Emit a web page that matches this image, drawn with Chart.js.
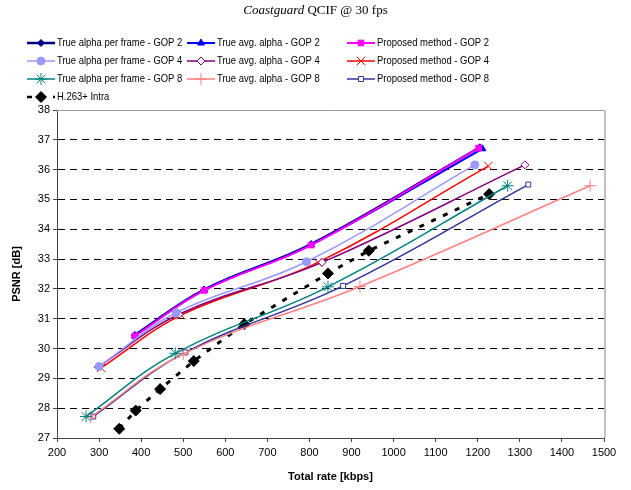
<!DOCTYPE html>
<html>
<head>
<meta charset="utf-8">
<script src="https://cdn.jsdelivr.net/npm/chart.js@4.4.1/dist/chart.umd.min.js"></script>
<style>
  html,body{margin:0;padding:0;background:#fff;}
  #wrap{position:relative;width:631px;height:490px;}
  #title{position:absolute;left:0;top:2px;width:631px;text-align:center;
    font-family:"Liberation Serif","Times New Roman",serif;font-size:13px;color:#000;}
  canvas{display:block;}
</style>
</head>
<body>
<div id="wrap">
  <div id="title"><i>Coastguard</i> QCIF @ 30 fps</div>
  <canvas id="c" width="631" height="490"></canvas>
</div>
<script>
// values: rate [kbps] / PSNR [dB]
const rateFrameG2 = [385, 550, 804, 1205];
const psnrFrameG2 = [30.45, 31.98, 33.5, 36.75];
const rateAvgG2 = [385, 550, 804, 1211];
const psnrAvgG2 = [30.43, 31.96, 33.48, 36.7];
const ratePropG2 = [385, 550, 804, 1202];
const psnrPropG2 = [30.42, 31.95, 33.47, 36.72];

const rateFrameG4 = [300, 483, 793, 1193];
const psnrFrameG4 = [29.4, 31.2, 32.91, 36.16];
const rateAvgG4 = [298, 490, 830, 1312];
const psnrAvgG4 = [29.38, 31.15, 32.89, 36.16];
const ratePropG4 = [305, 495, 820, 1225];
const psnrPropG4 = [29.35, 31.12, 32.89, 36.12];

const rateFrameG8 = [269, 481, 844, 1271];
const psnrFrameG8 = [27.72, 29.84, 32.07, 35.46];
const rateAvgG8 = [280, 500, 920, 1467];
const psnrAvgG8 = [27.7, 29.82, 32.08, 35.46];
const ratePropG8 = [286, 505, 880, 1320];
const psnrPropG8 = [27.72, 29.87, 32.1, 35.5];

const rateIntra = [348, 387, 445, 525, 645, 844, 941, 1227];
const psnrIntra = [27.31, 27.92, 28.64, 29.58, 30.82, 32.52, 33.28, 35.18];

const xTicks = {min:200, max:1500, step:100};
const yTicks = {min:27, max:38, step:1};

const FONT = '"Liberation Sans", Arial, sans-serif';

function pts(xs, ys){
  return xs.map((x,i)=>({x, y:ys[i]}));
}

function series(label, xs, ys, color, style, opts){
  return Object.assign({
    label,
    data:pts(xs, ys),
    borderColor:color,
    backgroundColor:color,
    pointBackgroundColor:color,
    pointBorderColor:color,
    pointStyle:style,
    pointRadius:4,
    pointBorderWidth:1,
    borderWidth:1.5,
    tension:.4,
    fill:false
  }, opts || {});
}

const datasets = [
  series('True alpha per frame - GOP 2', rateFrameG2, psnrFrameG2, '#000080', 'rectRot', {borderWidth:2.5, pointRadius:3.5, order:3}),
  series('True avg. alpha - GOP 2', rateAvgG2, psnrAvgG2, '#0000ff', 'triangle', {borderWidth:2, order:2}),
  series('Proposed method - GOP 2', ratePropG2, psnrPropG2, '#ff00ff', 'rect', {borderWidth:2, pointRadius:4, order:1}),
  series('True alpha per frame - GOP 4', rateFrameG4, psnrFrameG4, '#9999ff', 'circle', {pointRadius:4}),
  series('True avg. alpha - GOP 4', rateAvgG4, psnrAvgG4, '#800080', 'rectRot', {pointBackgroundColor:'#fff', pointRadius:4}),
  series('Proposed method - GOP 4', ratePropG4, psnrPropG4, '#ff0000', 'crossRot', {pointRadius:6}),
  series('True alpha per frame - GOP 8', rateFrameG8, psnrFrameG8, '#008080', 'star', {pointRadius:6}),
  series('True avg. alpha - GOP 8', rateAvgG8, psnrAvgG8, '#ff8080', 'cross', {pointRadius:6}),
  series('Proposed method - GOP 8', ratePropG8, psnrPropG8, '#333399', 'rect', {pointBackgroundColor:'#fff', pointRadius:3.5}),
  series('H.263+ Intra', rateIntra, psnrIntra, '#000000', 'rectRot', {borderWidth:3, borderDash:[5,8], pointRadius:5.5, tension:0})
];

// legend laid out as a 3-column grid like the original (text slightly condensed)
const LEG_X = [27, 187, 347];
const LEG_Y = [43, 61, 79, 97];
const gridLegend = {
  id:'gridLegend',
  afterDraw(chart){
    const ctx = chart.ctx;
    chart.data.datasets.forEach((ds,i)=>{
      const x = LEG_X[i % 3], y = LEG_Y[Math.floor(i / 3)];
      ctx.save();
      ctx.strokeStyle = ds.borderColor;
      ctx.lineWidth = Math.min(ds.borderWidth, 2.5);
      ctx.setLineDash(ds.borderDash || []);
      ctx.beginPath();
      ctx.moveTo(x, y);
      ctx.lineTo(x + 28, y);
      ctx.stroke();
      ctx.setLineDash([]);
      ctx.fillStyle = ds.pointBackgroundColor;
      ctx.strokeStyle = ds.pointBorderColor;
      ctx.lineWidth = 1;
      Chart.helpers.drawPoint(ctx, {pointStyle:ds.pointStyle, radius:ds.pointRadius, rotation:0, borderWidth:1}, x + 14, y);
      ctx.fillStyle = '#000';
      ctx.font = '11px ' + FONT;
      ctx.textBaseline = 'middle';
      ctx.translate(x + 30, y);
      ctx.scale(0.86, 1);
      ctx.fillText(ds.label, 0, 0);
      ctx.restore();
    });
  }
};

// gray frame on top and right of the plot area
const plotFrame = {
  id:'plotFrame',
  beforeDatasetsDraw(chart){
    const {ctx, chartArea:a} = chart;
    ctx.save();
    ctx.strokeStyle = '#9a9a9a';
    ctx.lineWidth = 1;
    ctx.beginPath();
    ctx.moveTo(a.left, a.top + .5);
    ctx.lineTo(a.right, a.top + .5);
    ctx.stroke();
    ctx.strokeStyle = '#c0c0c0';
    ctx.lineWidth = 2;
    ctx.beginPath();
    ctx.moveTo(a.right + 1, a.top);
    ctx.lineTo(a.right + 1, a.bottom);
    ctx.stroke();
    ctx.restore();
  }
};

new Chart(document.getElementById('c'), {
  type:'line',
  data:{datasets},
  plugins:[gridLegend, plotFrame],
  options:{
    responsive:false,
    animation:false,
    layout:{padding:{top:110, right:27, left:0, bottom:0}},
    plugins:{legend:{display:false}, tooltip:{enabled:false}, title:{display:false}},
    scales:{
      x:{
        type:'linear',
        min:xTicks.min, max:xTicks.max,
        ticks:{stepSize:xTicks.step, color:'#000', font:{family:FONT, size:11}, padding:4, maxRotation:0, autoSkip:false,
          callback:v => String(v)},
        grid:{drawOnChartArea:false, drawTicks:true, tickLength:4, color:'#444'},
        border:{color:'#444', width:1},
        title:{display:true, text:'Total rate [kbps]', color:'#000', font:{family:FONT, size:11, weight:'bold'}, padding:{top:4, bottom:6}},
        afterFit(s){ s.height = 52; }
      },
      y:{
        type:'linear',
        min:yTicks.min, max:yTicks.max,
        ticks:{stepSize:yTicks.step, color:'#000', font:{family:FONT, size:11}, padding:3, callback:v => String(v)},
        grid:{
          color:ctx => (ctx.tick && (ctx.tick.value === yTicks.min || ctx.tick.value === yTicks.max)) ? 'rgba(0,0,0,0)' : '#000',
          tickColor:'#444', tickLength:4, lineWidth:1
        },
        border:{color:'#444', width:1, dash:[7,5]},
        title:{display:true, text:'PSNR [dB]', color:'#000', font:{family:FONT, size:11, weight:'bold'}, padding:{top:10, bottom:4}},
        afterFit(s){ s.width = 57; }
      }
    }
  }
});
</script>
</body>
</html>
